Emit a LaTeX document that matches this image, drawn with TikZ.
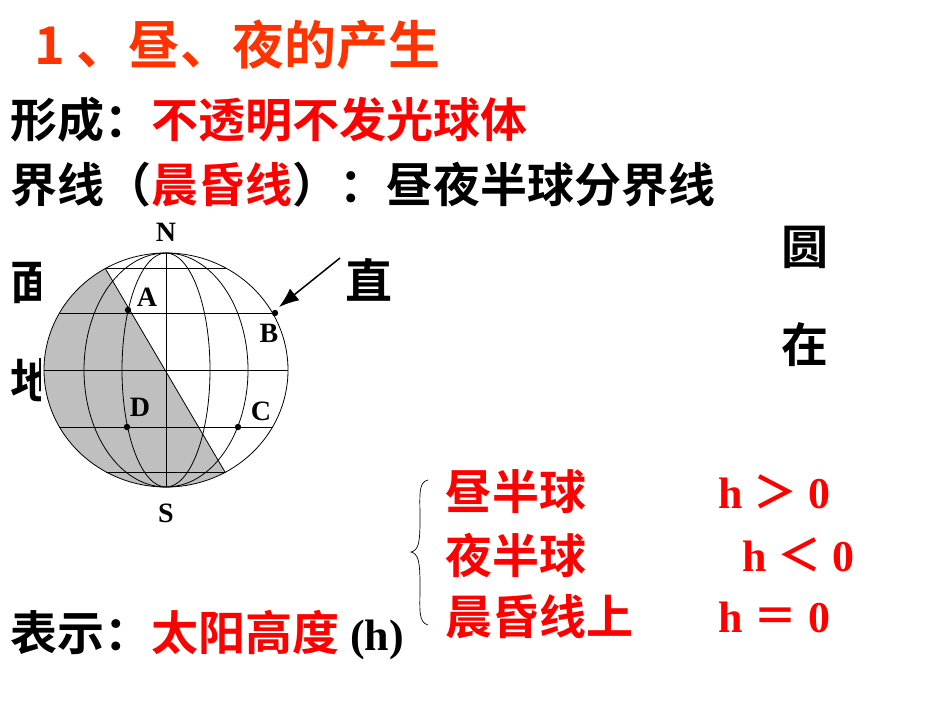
\documentclass[tikz,border=0pt]{standalone}
\usetikzlibrary{arrows.meta}
\usepackage{fontspec}
\setmainfont{Liberation Serif}
\newfontfamily\cjk{Noto Sans CJK SC}[BoldFont={* Bold}]
\definecolor{tred}{RGB}{255,51,0}
\definecolor{rred}{RGB}{255,0,0}
\begin{document}
\begin{tikzpicture}[x=1pt,y=-1pt,
  txt/.style={anchor=west,inner sep=0pt,font=\fontsize{47}{49}\selectfont\cjk\bfseries},
  htx/.style={anchor=west,inner sep=0pt,text=rred,font=\fontsize{44}{46}\selectfont\bfseries},
  lbl/.style={inner sep=0pt,font=\fontsize{28}{30}\selectfont\bfseries},
  gl/.style={line width=0.8pt}]
\useasboundingbox (0,0) rectangle (950,713);
\node[txt,text=tred,font=\fontsize{52}{54}\selectfont\cjk\bfseries] (title) at (34,45) {1\hspace{12pt}、昼、夜的产生};
\node[txt] (l1) at (10,120) {形成：\textcolor{rred}{不透明不发光球体}};
\node[txt] (l2) at (10,185) {界线（\textcolor{rred}{晨昏线}）：昼夜半球分界线};
\begin{scope}
\clip (0,240) rectangle (40,420);
\node[txt] (f1) at (10,283) {面};
\node[txt] (f2) at (10,380) {地};
\end{scope}
\node[txt] (f3) at (345,280) {直};
\node[txt] (f4) at (781,247) {圆};
\node[txt] (f5) at (781,345) {在};
% globe
\begin{scope}
\clip (166,370) ellipse [x radius=122, y radius=117];
\fill[gray!50] (45,166) -- (285,574) -- (0,574) -- (0,166) -- cycle;
\end{scope}
\draw[gl] (166,370) ellipse [x radius=122, y radius=117];
\draw[gl] (166,370) ellipse [x radius=44, y radius=117];
\draw[gl] (166,370) ellipse [x radius=82, y radius=117];
\draw[gl] (166,253) -- (166,487);
\foreach \y in {268,313,370,427,472}{
  \pgfmathsetmacro\dx{122*sqrt(1-((\y-370)/117)^2)}
  \draw[gl] (166-\dx,\y) -- (166+\dx,\y);
}
\draw[gl] (105,268) -- (225,472);
\foreach \p in {{(128,310)},{(275,313)},{(238,427)},{(127,427)}}
  \fill \p circle (3.2);
\node[lbl] (N) at (166,232) {N};
\node[lbl] (S) at (166,513) {S};
\node[lbl] (A) at (147,297) {A};
\node[lbl] (B) at (269,333) {B};
\node[lbl] (C) at (261,411) {C};
\node[lbl] (D) at (140,407) {D};
\coordinate (as) at (340,258);
\coordinate (ae) at (279,307);
\draw[line width=1.5pt,-{Latex[length=20pt,width=15pt]}] (as) -- (ae);
% brace
\draw[line width=0.7pt] (428,480) .. controls (418,482) and (420,495) .. (420,520) .. controls (420,545) and (418,550) .. (411,552) .. controls (418,554) and (420,560) .. (420,585) .. controls (420,610) and (418,622) .. (428,625);
\node[txt,text=rred] (r1) at (445,492) {昼半球};
\node[txt,text=rred] (r2) at (445,555) {夜半球};
\node[txt,text=rred] (r3) at (445,617) {晨昏线上};
\node[htx] (h1) at (718,492) {h {\cjk ＞} 0};
\node[htx] (h2) at (742,555) {h {\cjk ＜} 0};
\node[htx] (h3) at (718,617) {h {\cjk ＝} 0};
\node[txt] (l3) at (10,635) {表示：\textcolor{rred}{太阳高度}{\fontsize{44}{46}\selectfont\rmfamily\bfseries\ (h)}};
\end{tikzpicture}
\end{document}
